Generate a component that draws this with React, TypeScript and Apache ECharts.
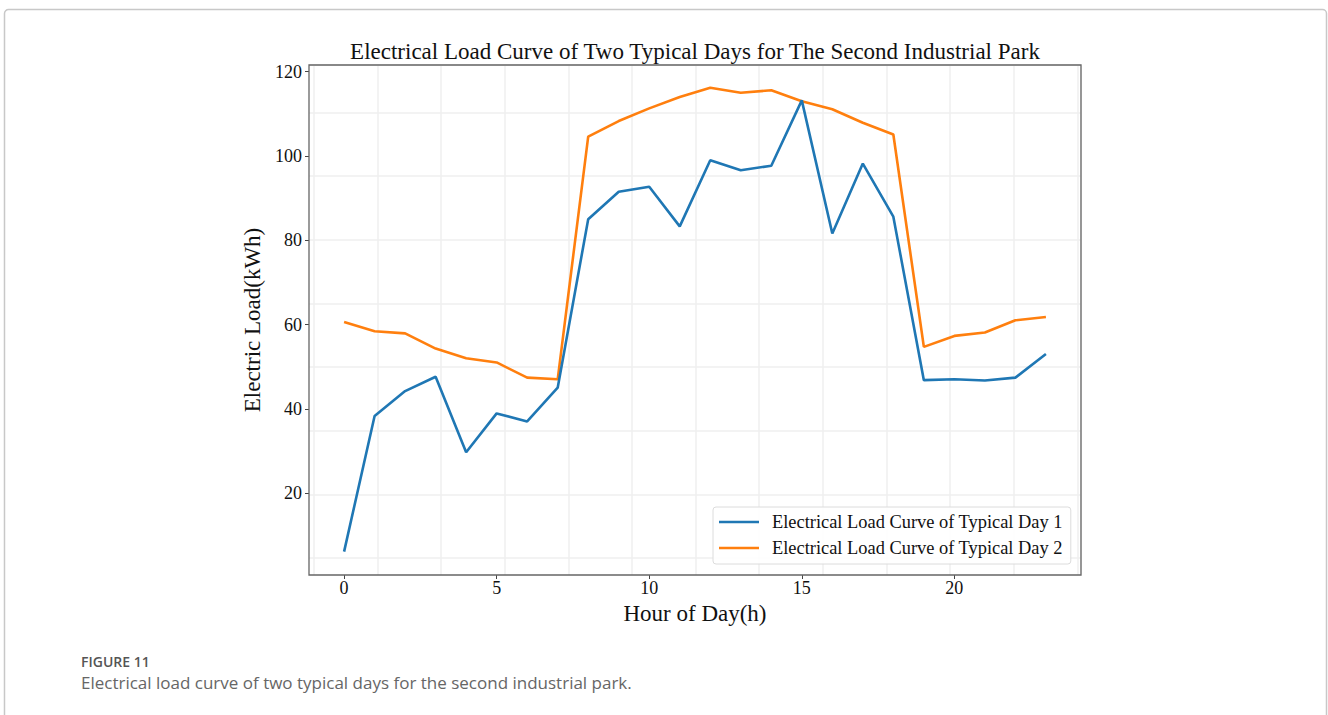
import React, { useEffect, useRef } from "react";
import * as echarts from "echarts";

const hours = [0, 1, 2, 3, 4, 5, 6, 7, 8, 9, 10, 11, 12, 13, 14, 15, 16, 17, 18, 19, 20, 21, 22, 23];
const day1 = [6.1, 38.3, 44.2, 47.6, 29.7, 38.9, 37.0, 45.0, 85.0, 91.5, 92.7, 83.3, 99.0, 96.6, 97.7, 113.2, 81.6, 98.2, 85.6, 46.8, 47.0, 46.7, 47.4, 53.0];
const day2 = [60.6, 58.4, 57.9, 54.3, 52.0, 51.0, 47.4, 47.0, 104.6, 108.3, 111.3, 114.0, 116.2, 115.0, 115.6, 113.0, 111.1, 107.9, 105.1, 54.7, 57.3, 58.1, 61.0, 61.8];
const xTicks = [0, 5, 10, 15, 20];
const yTicks = [20, 40, 60, 80, 100, 120];
const seriesNames = ["Electrical Load Curve of Typical Day 1", "Electrical Load Curve of Typical Day 2"];
const titleText = "Electrical Load Curve of Two Typical Days for The Second Industrial Park";
const captionLabel = "FIGURE 11";
const captionText = "Electrical load curve of two typical days for the second industrial park.";

const SERIF = "'Liberation Serif', 'Times New Roman', serif";
const SANS = "'Open Sans', 'Noto Sans', sans-serif";

export default function App() {
  const ref = useRef<HTMLDivElement>(null);
  useEffect(() => {
    if (!ref.current) return;
    const chart = echarts.init(ref.current, undefined, { renderer: "svg" });
    const plotL = 309, plotR = 1081, plotT = 65, plotB = 575;
    const W = 1328, H = 715;
    const gridStep = 63.64;
    const vFirst = 313.7;
    const hLast = 558;
    const gridLine = { show: true, lineStyle: { color: "#efefef", width: 1.5 } };
    const toPairs = (arr: number[]) => hours.map((h, i) => [h, arr[i]]);
    chart.setOption({
      animation: false,
      backgroundColor: "#fff",
      title: {
        text: titleText,
        left: 690,
        textAlign: "center",
        top: 35,
        textStyle: { fontFamily: SERIF, fontSize: 23, fontWeight: "normal", color: "#111" },
      },
      grid: [
        { left: plotL, right: W - plotR, top: plotT, bottom: H - plotB, show: true, borderColor: "#666", borderWidth: 1.3, z: 3 },
        { left: vFirst, right: W - plotR, top: plotT, bottom: H - plotB },
        { left: plotL, right: W - plotR, top: plotT, bottom: H - hLast },
      ],
      xAxis: [
        {
          type: "value", gridIndex: 0, min: -1.15, max: 24.15,
          name: "Hour of Day(h)", nameLocation: "middle", nameGap: 13,
          nameTextStyle: { fontFamily: SERIF, fontSize: 23, color: "#111" },
          axisLine: { show: false, onZero: false },
          axisTick: { show: true, length: 4, customValues: xTicks, lineStyle: { color: "#444" } },
          axisLabel: { customValues: xTicks, margin: 4, fontFamily: SERIF, fontSize: 18, color: "#111" },
          splitLine: { show: false },
        },
        {
          type: "value", gridIndex: 1, min: 0, max: (plotR - vFirst) / gridStep, interval: 1,
          axisLine: { show: false, onZero: false }, axisTick: { show: false }, axisLabel: { show: false },
          splitLine: gridLine,
        },
        {
          type: "value", gridIndex: 2, min: 0, max: 1,
          axisLine: { show: false, onZero: false }, axisTick: { show: false }, axisLabel: { show: false },
          splitLine: { show: false },
        },
      ],
      yAxis: [
        {
          type: "value", gridIndex: 0, min: 0.55, max: 121.6,
          name: "Electric Load(kWh)", nameLocation: "middle", nameGap: 30, nameRotate: 90,
          nameTextStyle: { fontFamily: SERIF, fontSize: 23, color: "#111" },
          axisLine: { show: false, onZero: false },
          axisTick: { show: true, length: 4, customValues: yTicks, lineStyle: { color: "#444" } },
          axisLabel: { customValues: yTicks, margin: 7, fontFamily: SERIF, fontSize: 18, color: "#111" },
          splitLine: { show: false },
        },
        {
          type: "value", gridIndex: 1, min: 0, max: 1,
          axisLine: { show: false, onZero: false }, axisTick: { show: false }, axisLabel: { show: false },
          splitLine: { show: false },
        },
        {
          type: "value", gridIndex: 2, min: 0, max: (hLast - plotT) / gridStep, interval: 1,
          axisLine: { show: false, onZero: false }, axisTick: { show: false }, axisLabel: { show: false },
          splitLine: gridLine,
        },
      ],
      legend: {
        orient: "vertical",
        left: 713,
        top: 507,
        padding: [5, 8, 6, 6],
        itemGap: 6,
        itemWidth: 40,
        itemHeight: 2.5,
        icon: "rect",
        backgroundColor: "rgba(255,255,255,0.85)",
        borderColor: "#dcdcdc",
        borderWidth: 1,
        borderRadius: 3,
        textStyle: { fontFamily: SERIF, fontSize: 18.4, color: "#111", lineHeight: 20, padding: [0, 0, 0, 8] },
        data: seriesNames,
      },
      graphic: [
        {
          type: "rect", silent: true, z: -10,
          shape: { x: 4.5, y: 9.5, width: 1322, height: 760, r: 4 },
          style: { fill: "none", stroke: "#c8c8c8", lineWidth: 1.5 },
        },
        {
          type: "text", left: 81, top: 654,
          style: { text: captionLabel, font: `600 14px ${SANS}`, fill: "#555" },
        },
        {
          type: "text", left: 81, top: 674,
          style: { text: captionText, font: `17px ${SANS}`, fill: "#666" },
        },
      ],
      series: [
        {
          name: seriesNames[0], type: "line", xAxisIndex: 0, yAxisIndex: 0,
          data: toPairs(day1), symbol: "none", z: 5,
          lineStyle: { color: "#1f77b4", width: 2.6 }, itemStyle: { color: "#1f77b4" },
        },
        {
          name: seriesNames[1], type: "line", xAxisIndex: 0, yAxisIndex: 0,
          data: toPairs(day2), symbol: "none", z: 4,
          lineStyle: { color: "#ff7f0e", width: 2.6 }, itemStyle: { color: "#ff7f0e" },
        },
      ],
    });
    return () => chart.dispose();
  }, []);
  return <div ref={ref} style={{ position: "absolute", left: 0, top: 0, width: 1328, height: 715 }} />;
}
